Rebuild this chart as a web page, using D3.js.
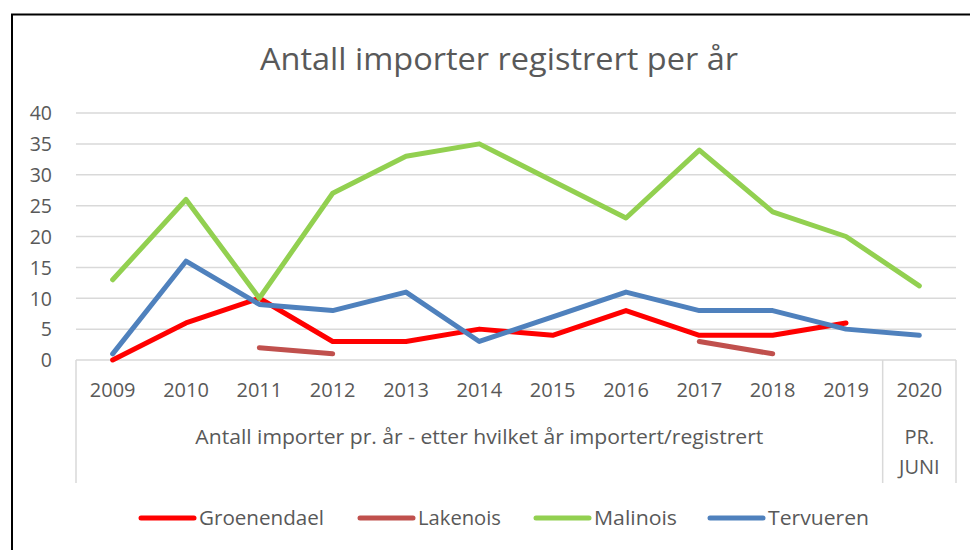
<!DOCTYPE html>
<html><head><meta charset="utf-8">
<script src="https://cdn.jsdelivr.net/npm/d3@7"></script>
<style>
html,body{margin:0;padding:0;background:#fff;}
text{font-family:"Open Sans",sans-serif;fill:#595959;}
</style></head>
<body>
<svg id="chart" width="970" height="550"></svg>
<script>
const title = "Antall importer registrert per år";
const categories = ["2009","2010","2011","2012","2013","2014","2015","2016","2017","2018","2019","2020"];
const groupLabels = [
  {label: ["Antall importer pr. år - etter hvilket år importert/registrert"], from: "2009", to: "2019"},
  {label: ["PR.", "JUNI"], from: "2020", to: "2020"}
];
const yTicks = [0,5,10,15,20,25,30,35,40];
const seriesNames = ["Groenendael","Lakenois","Malinois","Tervueren"];
const seriesColors = ["#FF0000","#C0504D","#92D050","#4F81BD"];
const groenendael = [0,6,10,3,3,5,4,8,4,4,6,null];
const lakenois    = [null,null,2,1,null,null,null,null,3,1,null,null];
const malinois    = [13,26,10,27,33,35,29,23,34,24,20,12];
const tervueren   = [1,16,9,8,11,3,7,11,8,8,5,4];
const seriesValues = [groenendael, lakenois, malinois, tervueren];

const svg = d3.select("#chart");
// outer frame
svg.append("rect").attr("x",12).attr("y",14.5).attr("width",980).attr("height",560)
  .attr("fill","none").attr("stroke","#000").attr("stroke-width",2);

const x = d3.scaleBand().domain(categories).range([76,956]).padding(0);
const y = d3.scaleLinear().domain([0,40]).range([360,113]);

// title
svg.append("text").attr("x",499).attr("y",70).attr("text-anchor","middle")
  .style("font-size","31px").attr("textLength",478).attr("lengthAdjust","spacingAndGlyphs").text(title);

// gridlines
svg.append("g").selectAll("line").data(yTicks.filter(d=>d>0)).join("line")
  .attr("x1",76).attr("x2",956).attr("y1",d=>y(d)).attr("y2",d=>y(d))
  .attr("stroke","#d9d9d9").attr("stroke-width",1.5);

// y axis labels
const yAxis = d3.axisLeft(y).tickValues(yTicks).tickSize(0).tickPadding(0);
const gy = svg.append("g").attr("transform","translate(52,0)").call(yAxis);
gy.select(".domain").remove();
gy.selectAll("text").style("font-size","19.5px").style("font-family","'Open Sans',sans-serif").attr("fill","#595959").attr("dy","0.35em").attr("x",0);

// x axis baseline & category boundary lines
svg.append("line").attr("x1",76).attr("x2",956).attr("y1",y(0)).attr("y2",y(0))
  .attr("stroke","#d9d9d9").attr("stroke-width",1.5);
const bounds = [x("2009"), x("2020"), x("2020")+x.bandwidth()];
svg.append("g").selectAll("line").data(bounds).join("line")
  .attr("x1",d=>d).attr("x2",d=>d).attr("y1",y(0)).attr("y2",483)
  .attr("stroke","#d9d9d9").attr("stroke-width",1.5);

// x axis labels
const xAxis = d3.axisBottom(x).tickSize(0).tickPadding(0);
const gx = svg.append("g").attr("transform","translate(0,390)").call(xAxis);
gx.select(".domain").remove();
gx.selectAll("text").style("font-size","20px").style("font-family","'Open Sans',sans-serif").attr("fill","#595959").attr("dy","0.35em").attr("y",0);

// group labels
groupLabels.forEach(g=>{
  const cx = (x(g.from) + x(g.to) + x.bandwidth())/2;
  g.label.forEach((l,i)=>{
    const t = svg.append("text").attr("x",cx).attr("y",437 + i*30).attr("dy","0.35em")
      .attr("text-anchor","middle").style("font-size","20px").text(l);
    if (l.length > 20) t.attr("textLength",568).attr("lengthAdjust","spacingAndGlyphs");
  });
});

// lines
const line = d3.line().defined(d=>d.v!=null).x(d=>x(d.c)+x.bandwidth()/2).y(d=>y(d.v));
seriesValues.forEach((vals,i)=>{
  svg.append("path").datum(categories.map((c,j)=>({c, v: vals[j]})))
    .attr("d",line).attr("fill","none").attr("stroke",seriesColors[i])
    .attr("stroke-width",5).attr("stroke-linejoin","round").attr("stroke-linecap","round");
});

// legend
const legendX = [141, 360, 536, 710];
const legendTextW = [125, 83, 83, 101];
const lg = svg.append("g");
seriesNames.forEach((n,i)=>{
  lg.append("line").attr("x1",legendX[i]).attr("x2",legendX[i]+53).attr("y1",518).attr("y2",518)
    .attr("stroke",seriesColors[i]).attr("stroke-width",5).attr("stroke-linecap","round");
  lg.append("text").attr("x",legendX[i]+58).attr("y",518).attr("dy","0.35em")
    .style("font-size","20px").attr("textLength",legendTextW[i]).attr("lengthAdjust","spacingAndGlyphs").text(n);
});
</script>
</body></html>
